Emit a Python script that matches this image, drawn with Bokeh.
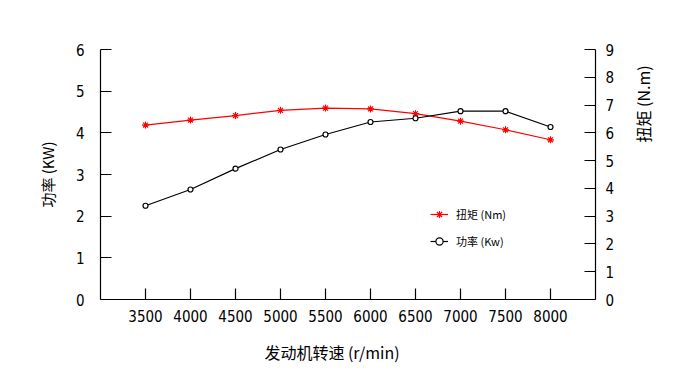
import math
from bokeh.plotting import figure
from bokeh.models import (LinearAxis, Range1d, FixedTicker, Legend, LegendItem)
from bokeh.embed import file_html
from bokeh.resources import INLINE

# ---- data ----
speed = [3500, 4000, 4500, 5000, 5500, 6000, 6500, 7000, 7500, 8000]
power_kw = [2.25, 2.64, 3.14, 3.60, 3.96, 4.26, 4.35, 4.52, 4.52, 4.14]
torque_nm = [6.28, 6.46, 6.62, 6.81, 6.89, 6.86, 6.69, 6.42, 6.11, 5.75]
x_ticks = [3500, 4000, 4500, 5000, 5500, 6000, 6500, 7000, 7500, 8000]
left_ticks = [0, 1, 2, 3, 4, 5, 6]
right_ticks = [0, 1, 2, 3, 4, 5, 6, 7, 8, 9]

x_label = "发动机转速 (r/min)"
left_label = "功率 (KW)"
right_label = "扭矩 (N.m)"
legend_torque = "扭矩 (Nm)"
legend_power = "功率 (Kw)"

NUM_FONT = "'Liberation Sans Narrow', 'DejaVu Sans Condensed', 'Noto Sans', sans-serif"
CJK_FONT = "'Noto Sans CJK SC', sans-serif"
PAD = "\u3000"  # ideographic space, used only to shift a title along its axis

p = figure(width=680, height=380, output_backend="svg", toolbar_location=None,
           x_range=Range1d(3000, 8500), y_range=Range1d(0, 6),
           min_border_left=100, min_border_right=85, min_border_top=49, min_border_bottom=81)
p.extra_y_ranges = {"torque": Range1d(0, 9)}
p.outline_line_color = None
p.xgrid.visible = False
p.ygrid.visible = False
p.background_fill_color = "white"
p.border_fill_color = "white"

def style_axis(ax, ticks, standoff):
    ax.ticker = FixedTicker(ticks=ticks)
    ax.minor_tick_line_color = None
    ax.major_tick_in = 11
    ax.major_tick_out = 0
    ax.axis_line_color = "black"
    ax.major_tick_line_color = "black"
    ax.axis_line_width = 1.2
    ax.major_tick_line_width = 1.2
    ax.major_label_text_font = NUM_FONT
    ax.major_label_text_font_size = "15px"
    ax.major_label_text_color = "black"
    ax.major_label_standoff = standoff
    ax.axis_label_text_font = CJK_FONT
    ax.axis_label_text_font_size = "15px"
    ax.axis_label_text_font_style = "normal"
    ax.axis_label_text_color = "black"

xa = p.xaxis[0]
style_axis(xa, x_ticks, 10)
xa.axis_label = x_label + PAD * 2
xa.axis_label_text_font_size = "16px"
xa.axis_label_standoff = 15

ya = p.yaxis[0]
style_axis(ya, left_ticks, 16)
ya.axis_label = left_label
ya.axis_label_standoff = 15

ra = LinearAxis(y_range_name="torque")
style_axis(ra, right_ticks, 10)
ra.axis_label = PAD * 2 + right_label
ra.axis_label_text_font_size = "16px"
ra.axis_label_standoff = 26
ra.axis_label_orientation = math.pi / 2
p.add_layout(ra, "right")

r_t = p.line(speed, torque_nm, y_range_name="torque", line_color="#ff0000", line_width=1.2)
m_t = p.scatter(speed, torque_nm, y_range_name="torque", marker="asterisk", size=7,
                line_color="#ff0000", line_width=1.2)
r_p = p.line(speed, power_kw, line_color="black", line_width=1.2)
m_p = p.scatter(speed, power_kw, marker="circle", size=5, line_color="black",
                fill_color="white", line_width=1.2)

legend = Legend(items=[LegendItem(label=legend_torque, renderers=[r_t, m_t]),
                       LegendItem(label=legend_power, renderers=[r_p, m_p])],
                location=(330, 48), border_line_color=None, background_fill_alpha=0,
                padding=0, margin=0, spacing=7, glyph_width=18, label_standoff=8,
                label_text_font=CJK_FONT, label_text_font_size="11px",
                label_text_color="black")
p.add_layout(legend)

open("out.html", "w").write(file_html(p, INLINE))
